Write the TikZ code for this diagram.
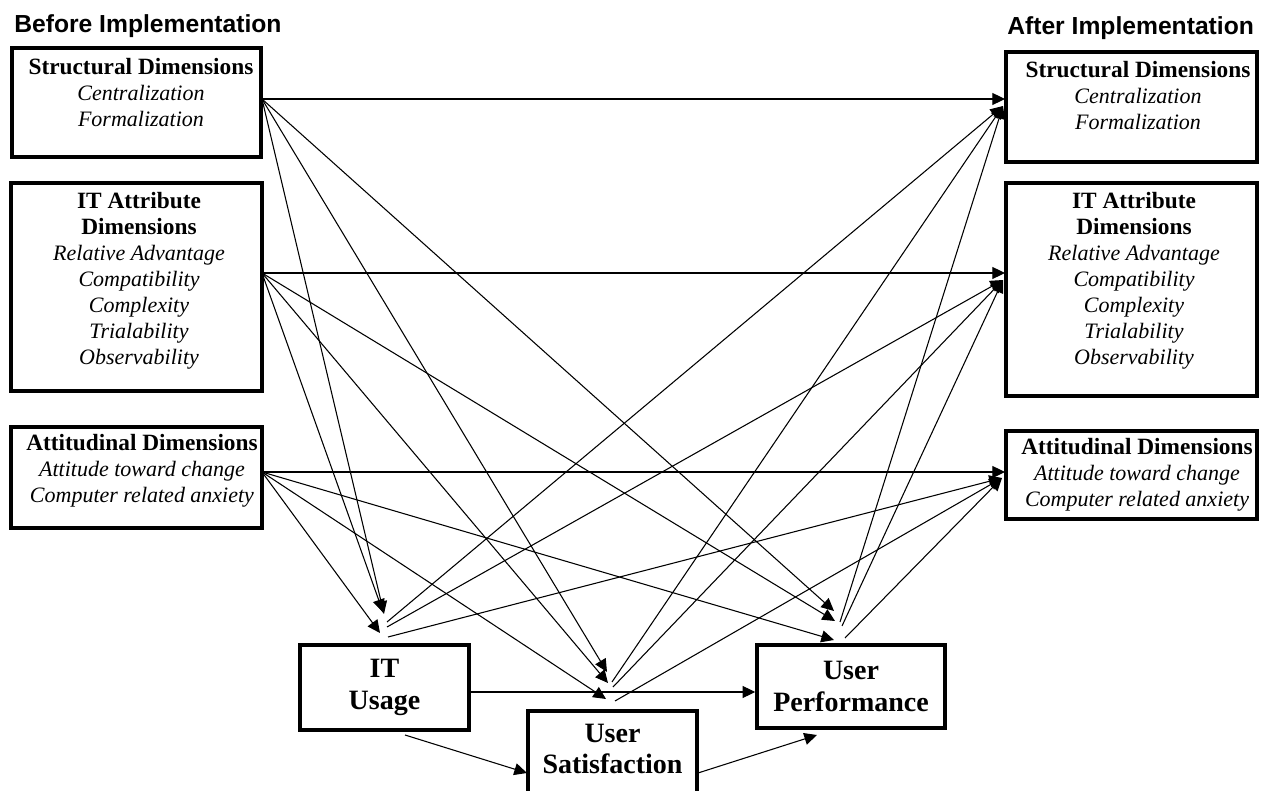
\documentclass[tikz,border=0pt]{standalone}
\usepackage{fontspec}
\setmainfont{Liberation Serif}
\newfontfamily\titlefont{Liberation Sans}
\usetikzlibrary{arrows.meta}
\newcommand\boxhead[1]{{\fontsize{17.5}{19.5}\selectfont\bfseries\upshape #1}}
\begin{document}
\begin{tikzpicture}[x=0.75pt,y=-0.75pt,
  box/.style={draw, line width=2.6pt, fill=white, inner sep=0pt},
  ttl/.style={font=\titlefont\bfseries\fontsize{18.5}{20}\selectfont, anchor=base west, inner sep=0pt},
  txt/.style={align=center, inner sep=0pt, font=\fontsize{16.5}{19.5}\selectfont\itshape},
  btxt/.style={align=center, inner sep=0pt, font=\fontsize{21}{23.5}\selectfont\bfseries},
  ln/.style={line width=0.8pt},
  arr/.style={ln, -{Triangle[length=9.5pt,width=9pt]}},
]
\clip (0,0) rectangle (1265,791);
\fill[white] (0,0) rectangle (1265,791);

% titles
\node[ttl] (tb) at (14,33) {Before Implementation};
\node[ttl] (ta) at (1007,35) {After Implementation};

% left boxes
\node[box, minimum width=186.75pt, minimum height=81.75pt] (L1) at (136.5,102.5) {};
\node[box, minimum width=188.25pt, minimum height=156pt] (L2) at (136.5,287) {};
\node[box, minimum width=188.25pt, minimum height=75.75pt] (L3) at (136.5,477.5) {};
\node[txt] (L1t) at (141,93) {\boxhead{Structural Dimensions}\\Centralization\\Formalization};
\node[txt] (L2t) at (139,281) {\boxhead{IT Attribute}\\\boxhead{Dimensions}\\Relative Advantage\\Compatibility\\Complexity\\Trialability\\Observability};
\node[txt] (L3t) at (142,471) {\boxhead{Attitudinal Dimensions}\\Attitude toward change\\Computer related anxiety};

% right boxes
\node[box, minimum width=188.25pt, minimum height=82.5pt] (R1) at (1131.5,107) {};
\node[box, minimum width=188.25pt, minimum height=159.75pt] (R2) at (1131.5,289.5) {};
\node[box, minimum width=188.25pt, minimum height=66pt] (R3) at (1131.5,475) {};
\node[txt] (R1t) at (1138,96) {\boxhead{Structural Dimensions}\\Centralization\\Formalization};
\node[txt] (R2t) at (1134,281) {\boxhead{IT Attribute}\\\boxhead{Dimensions}\\Relative Advantage\\Compatibility\\Complexity\\Trialability\\Observability};
\node[txt] (R3t) at (1137,475) {\boxhead{Attitudinal Dimensions}\\Attitude toward change\\Computer related anxiety};

% bottom boxes
\node[box, btxt, minimum width=126.75pt, minimum height=63.75pt] (ITU) at (384.5,687.5) {IT\\Usage};
\node[box, minimum width=126.75pt, minimum height=66.75pt] (US) at (612.5,755.5) {};
\node[btxt] (USt) at (612.5,749) {User\\Satisfaction};
\node[box, btxt, minimum width=141pt, minimum height=62.25pt] (UP) at (851,686.5) {User\\Performance};

% hub coordinates
\coordinate (a1) at (262,99);
\coordinate (a2) at (262,273);
\coordinate (a3) at (262,472);
\coordinate (b1) at (1005,99);
\coordinate (b2) at (1005,273);
\coordinate (b3) at (1005,472);
\coordinate (b1d) at (1003,106);
\coordinate (b2d) at (1003,280);
\coordinate (b3d) at (1002,478);
% IT usage hub
\coordinate (iu1) at (384,614);
\coordinate (iu2) at (383,612);
\coordinate (iu3) at (380,633);
\coordinate (io1) at (387,622);
\coordinate (io2) at (387,627);
\coordinate (io3) at (388,637);
% user satisfaction hub
\coordinate (us1) at (607,672);
\coordinate (us2) at (608,683);
\coordinate (us3) at (606,699);
\coordinate (uo1) at (612,682);
\coordinate (uo2) at (613,687);
\coordinate (uo3) at (615,701);
% user performance hub
\coordinate (up1) at (834,611);
\coordinate (up2) at (835,621);
\coordinate (up3) at (834,640);
\coordinate (po1) at (840,622);
\coordinate (po2) at (842,626);
\coordinate (po3) at (845,638);
% bottom connectors
\coordinate (h) at (0,692);
\coordinate (iuS) at (405,735);
\coordinate (usW) at (527,773);
\coordinate (usE) at (698,773);
\coordinate (upS) at (817,735);

% before -> after
\draw[arr] (a1) -- (b1);
\draw[arr] (a2) -- (b2);
\draw[arr] (a3) -- (b3);
% before -> bottom
\draw[arr] (a1) -- (iu1);
\draw[arr] (a2) -- (iu2);
\draw[arr] (a3) -- (iu3);
\draw[arr] (a1) -- (us1);
\draw[arr] (a2) -- (us2);
\draw[arr] (a3) -- (us3);
\draw[arr] (a1) -- (up1);
\draw[arr] (a2) -- (up2);
\draw[arr] (a3) -- (up3);
% bottom -> after
\draw[arr] (io1) -- (b1d);
\draw[arr] (io2) -- (b2d);
\draw[arr] (io3) -- (b3d);
\draw[arr] (uo1) -- (b1d);
\draw[arr] (uo2) -- (b2d);
\draw[arr] (uo3) -- (b3d);
\draw[arr] (po1) -- (b1d);
\draw[arr] (po2) -- (b2d);
\draw[arr] (po3) -- (b3d);
% among bottom boxes
\draw[arr] (ITU.east |- h) -- (UP.west |- h);
\draw[arr] (iuS) -- (usW);
\draw[arr] (usE) -- (upS);
\end{tikzpicture}
\end{document}
